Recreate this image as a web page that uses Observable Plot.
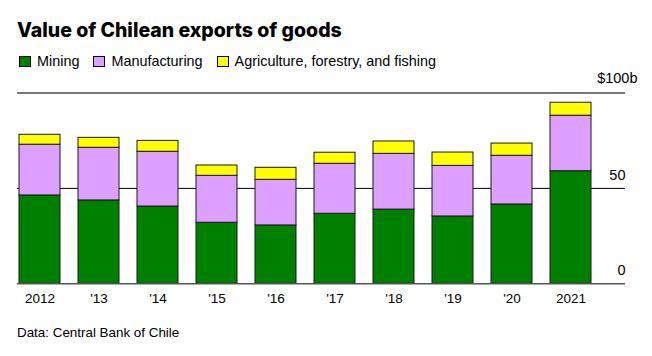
<!DOCTYPE html>
<html><head><meta charset="utf-8">
<script src="https://cdn.jsdelivr.net/npm/d3@7"></script>
<script src="https://cdn.jsdelivr.net/npm/@observablehq/plot@0.6"></script>
<style>
body{margin:0;background:#fff;font-family:"Liberation Sans",Arial,sans-serif;color:#000}
#wrap{position:relative;width:652px;height:356px;overflow:hidden}
#title{position:absolute;left:17px;top:16px;font-family:Inter,"Liberation Sans",sans-serif;font-weight:800;font-size:19.5px;line-height:28px;white-space:nowrap}
#legend{position:absolute;left:19px;top:52px;font-size:14.4px;line-height:18px;display:flex;align-items:center;white-space:nowrap}
.item{display:flex;align-items:center;margin-right:14px}
.sw{width:12px;height:11px;box-sizing:border-box;border:1px solid #000;margin-right:6px}
#chart{position:absolute;left:0;top:62px}
#caption{position:absolute;left:17px;top:325px;font-size:13.4px;line-height:16px;white-space:nowrap}
</style></head>
<body><div id="wrap">
<div id="title">Value of Chilean exports of goods</div>
<div id="legend"></div>
<div id="chart"></div>
<div id="caption">Data: Central Bank of Chile</div>
</div>
<script>
const years = ["2012","2013","2014","2015","2016","2017","2018","2019","2020","2021"];
const yearLabels = ["2012","'13","'14","'15","'16","'17","'18","'19","'20","2021"];
const sectors = ["Mining","Manufacturing","Agriculture, forestry, and fishing"];
const colors = ["#008000","#dda0ff","#ffff00"];
const mining = [46.3, 43.7, 40.5, 32.0, 30.6, 36.7, 38.9, 35.3, 41.6, 59.0];
const manufacturing = [26.6, 27.6, 28.7, 24.6, 23.9, 26.2, 29.2, 26.5, 25.5, 29.1];
const agriculture = [5.2, 5.2, 5.7, 5.4, 6.3, 5.8, 6.5, 7.0, 6.4, 6.8];
const yTicks = [0, 50];
const yTopTick = 100;

const series = [mining, manufacturing, agriculture];
const data = [];
years.forEach((y, i) => sectors.forEach((s, j) => data.push({year: y, sector: s, value: series[j][i]})));

// legend
const leg = document.getElementById("legend");
sectors.forEach((s, j) => {
  const it = document.createElement("div"); it.className = "item";
  const sw = document.createElement("div"); sw.className = "sw"; sw.style.background = colors[j];
  const tx = document.createElement("span"); tx.textContent = s;
  it.appendChild(sw); it.appendChild(tx); leg.appendChild(it);
});

const chart = Plot.plot({
  width: 652,
  height: 258,
  marginLeft: 17,
  marginRight: 27,
  marginTop: 30.5,
  marginBottom: 36.7,
  style: {fontFamily: '"Liberation Sans", Arial, sans-serif', fontSize: "13.5px", color: "#000", background: "none"},
  x: {type: "band", domain: years, range: [17, 593], paddingInner: 0.31, paddingOuter: 0, label: null},
  y: {domain: [0, 100], axis: null},
  color: {domain: sectors, range: colors},
  marks: [
    Plot.ruleY([50], {stroke: "#000", strokeWidth: 1}),
    Plot.ruleY([yTopTick], {stroke: "#777", strokeWidth: 2}),
    Plot.barY(data, {x: "year", y: "value", fill: "sector", order: sectors, stroke: "#1a1a1a", strokeWidth: 1}),
    Plot.ruleY([0], {stroke: "#555", strokeWidth: 1.5}),
    Plot.axisX({tickSize: 0, tickPadding: 10, tickFormat: (d) => yearLabels[years.indexOf(d)], fontSize: 13.5, label: null}),
    Plot.text(yTicks, {y: (d) => d, text: (d) => String(d), frameAnchor: "right", textAnchor: "end", dy: -13, fontSize: 14.5, fill: "#000"}),
    Plot.text([yTopTick], {y: (d) => d, text: (d) => "$" + d + "b", frameAnchor: "right", textAnchor: "end", dx: 12, dy: -14.5, fontSize: 14.5, fill: "#000"})
  ]
});
chart.style.overflow = "visible";
document.getElementById("chart").appendChild(chart);
</script>
</body></html>
